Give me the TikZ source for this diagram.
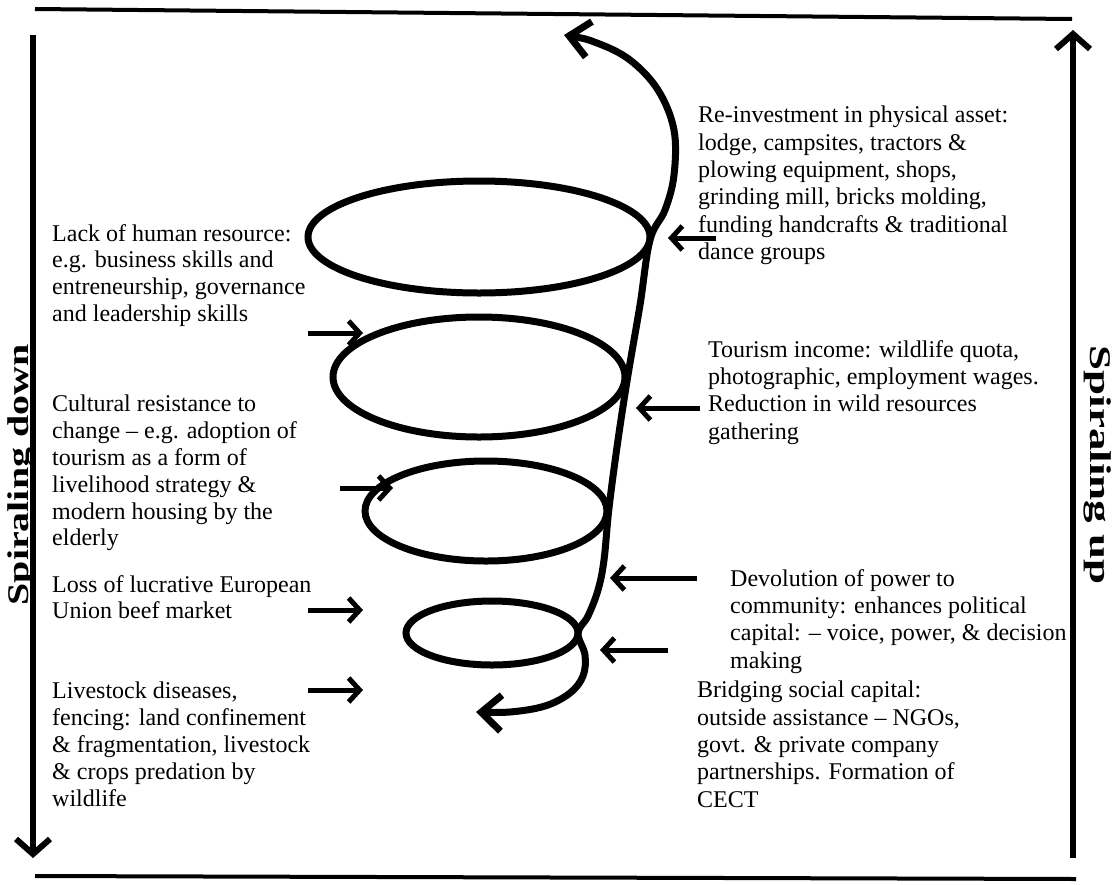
\documentclass[tikz,border=0pt]{standalone}
\usepackage{fontspec}
\setmainfont{Liberation Serif}
\usetikzlibrary{arrows.meta,shapes.geometric}
\begin{document}
\begin{tikzpicture}[x=1pt,y=-1pt,
  ltxt/.style={anchor=north west, inner sep=0pt, align=left, font=\fontsize{24}{26.8}\selectfont},
  rtxt/.style={anchor=north west, inner sep=0pt, align=left, font=\fontsize{24}{27.3}\selectfont},
  frameline/.style={line width=4pt},
  bigarrow/.style={line width=6pt, -{Straight Barb[length=15pt,width=34pt]}},
  ring/.style={line width=7pt, draw, ellipse, inner sep=0pt},
  spiral/.style={line width=7pt, line cap=round, line join=round, {Straight Barb[length=20pt,width=36pt]}-{Straight Barb[length=20pt,width=36pt]}},
  ptr/.style={line width=5pt, -{Straight Barb[length=11pt,width=24pt]}},
  sidelabel/.style={inner sep=0pt, font=\bfseries\fontsize{30}{36}\selectfont}
]
\useasboundingbox (0,0) rectangle (1113,884);

% frame lines
\coordinate (tl) at (35,9);
\coordinate (tr) at (1072,19);
\coordinate (bl) at (35,876);
\coordinate (br) at (1076,879);
\draw[frameline] (tl) -- (tr);
\draw[frameline] (bl) -- (br);

% side arrows
\coordinate (ldtop) at (33,35);
\coordinate (ldbot) at (33,858);
\coordinate (rutop) at (1073,30);
\coordinate (rubot) at (1073,858);
\draw[bigarrow] (ldtop) -- (ldbot);
\draw[bigarrow] (rubot) -- (rutop);
\node[sidelabel, rotate=90, anchor=base] (sd) at (28,475) {\scalebox{1.33}[1]{Spiraling down}};
\node[sidelabel, rotate=-90, anchor=base] (su) at (1090,465) {\scalebox{1.5}[1]{Spiraling up}};

% rings
\node[ring, minimum width=342pt, minimum height=112pt] (e1) at (479,237) {};
\node[ring, minimum width=292pt, minimum height=120pt] (e2) at (479,377) {};
\node[ring, minimum width=242pt, minimum height=100pt] (e3) at (486,511) {};
\node[ring, minimum width=172pt, minimum height=64pt] (e4) at (492,633) {};

% spiral
\draw[spiral] plot[smooth, tension=0.6] coordinates {
 (564,35) (597,43) (630,60) (658,90) (674,130) (674,175) (665,210) (650,240)
 (640,305) (628,375) (618,440) (609,508) (604,560) (598,590) (588,616) (578,633)
 (585,655) (583,676) (570,693) (545,706) (510,712) (476,712)};

% left texts
\node[ltxt] (t1) at (52,224) {Lack of human resource:\\e.g. business skills and\\entreneurship, governance\\and leadership skills};
\node[ltxt] (t2) at (52,395) {Cultural resistance to\\change -- e.g. adoption of\\tourism as a form of\\livelihood strategy \&\\modern housing by the\\elderly};
\node[ltxt] (t3) at (52,575) {Loss of lucrative European\\Union beef market};
\node[ltxt] (t4) at (52,682) {Livestock diseases,\\fencing: land confinement\\\& fragmentation, livestock\\\& crops predation by\\wildlife};

% right texts
\node[rtxt] (r1) at (698,106) {Re-investment in physical asset:\\lodge, campsites, tractors \&\\plowing equipment, shops,\\grinding mill, bricks molding,\\funding handcrafts \& traditional\\dance groups};
\node[rtxt] (r2) at (708,340) {Tourism income: wildlife quota,\\photographic, employment wages.\\Reduction in wild resources\\gathering};
\node[rtxt] (r3) at (730,569) {Devolution of power to\\community: enhances political\\capital: -- voice, power, \& decision\\making};
\node[rtxt] (r4) at (697,681) {Bridging social capital:\\outside assistance -- NGOs,\\govt. \& private company\\partnerships. Formation of\\CECT};

% pointer arrows
\coordinate (a1s) at (308,333); \coordinate (a1e) at (363,333);
\coordinate (a2s) at (340,488); \coordinate (a2e) at (393,488);
\coordinate (a3s) at (308,610); \coordinate (a3e) at (363,610);
\coordinate (a4s) at (308,690); \coordinate (a4e) at (363,690);
\draw[ptr] (a1s) -- (a1e);
\draw[ptr] (a2s) -- (a2e);
\draw[ptr] (a3s) -- (a3e);
\draw[ptr] (a4s) -- (a4e);
\coordinate (b1s) at (716,238); \coordinate (b1e) at (668,238);
\coordinate (b2s) at (700,408); \coordinate (b2e) at (636,408);
\coordinate (b3s) at (697,578); \coordinate (b3e) at (610,578);
\coordinate (b4s) at (668,650); \coordinate (b4e) at (600,650);
\draw[ptr] (b1s) -- (b1e);
\draw[ptr] (b2s) -- (b2e);
\draw[ptr] (b3s) -- (b3e);
\draw[ptr] (b4s) -- (b4e);
\end{tikzpicture}
\end{document}
